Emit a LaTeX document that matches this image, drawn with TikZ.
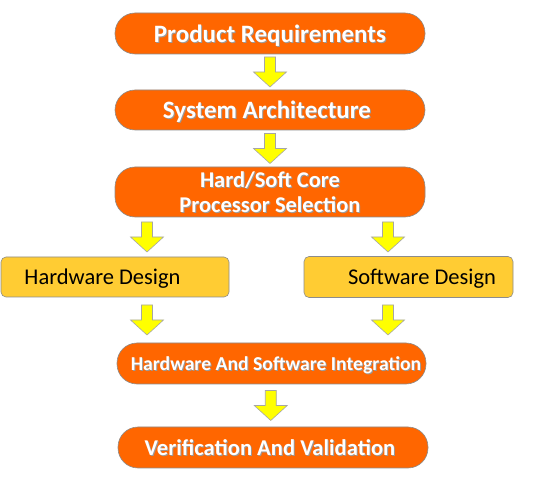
\documentclass[tikz,border=0pt]{standalone}
\usepackage{fontspec}
\setmainfont{Carlito}
\usetikzlibrary{calc}
\definecolor{orng}{HTML}{FF6600}
\definecolor{ylw}{HTML}{FFFF00}
\definecolor{gold}{HTML}{FFCC33}
\newcommand\stxt[1]{\makebox[0pt][l]{\kern1pt\raisebox{-1pt}{\color{black!40}#1}}#1}
\tikzset{
  pill/.style={draw=black!45, line width=0.6pt, fill=orng, rounded corners=20pt,
    text=white, font=\bfseries, align=center, inner sep=0pt, text depth=0pt},
  goldbox/.style={draw=black!45, line width=0.6pt, fill=gold, rounded corners=5pt,
    text=black, inner sep=0pt, text depth=0pt, font=\fontsize{22.5}{26}\selectfont},
  barrow/.pic={\draw[fill=ylw, draw=black!35, line width=0.6pt]
    (-5.5,-15) -- (5.5,-15) -- (5.5,0) -- (16.5,0) -- (0,15) -- (-16.5,0) -- (-5.5,0) -- cycle;}
}
\begin{document}
\begin{tikzpicture}[x=1pt,y=-1pt]
\useasboundingbox (0,0) rectangle (550,500);
\node[pill, minimum width=310pt, minimum height=41pt, font=\bfseries\fontsize{25}{28}\selectfont] (p1) at (270,33.5) {\stxt{Product Requirements}};
\node[pill, minimum width=310pt, minimum height=40pt, font=\bfseries\fontsize{25}{28}\selectfont] (p2) at (270,110) {\hspace*{-6pt}\stxt{System Architecture}};
\node[pill, minimum width=310pt, minimum height=50pt, font=\bfseries\fontsize{22.5}{25}\selectfont] (p3) at (270,192) {\stxt{Hard/Soft Core}\\\stxt{Processor Selection}};
\node[goldbox, minimum width=228pt, minimum height=40pt] (hw) at (115,277) {\hspace*{-25pt}Hardware Design};
\node[goldbox, minimum width=209pt, minimum height=41pt] (sw) at (408.5,277) {\hspace*{27pt}Software Design};
\node[pill, minimum width=309pt, minimum height=41pt, font=\bfseries\fontsize{19.7}{22}\selectfont] (p4) at (271.5,363.5) {\hspace*{9pt}\stxt{Hardware And Software Integration}};
\node[pill, minimum width=310pt, minimum height=41pt, font=\bfseries\fontsize{22.6}{26}\selectfont] (p5) at (273,447.5) {\hspace*{-6pt}\stxt{Verification And Validation}};
\coordinate (xl) at (147,0);
\coordinate (xr) at (388,0);
\coordinate (m1) at ($(p1.south)!0.5!(p2.north)$);
\coordinate (m2) at ($(p2.south)!0.5!(p3.north)$);
\coordinate (m3) at ($(p3.south)!0.5!(hw.north)$);
\coordinate (m4) at ($(hw.south)!0.5!(p4.north)$);
\coordinate (m5) at ($(p4.south)!0.5!(p5.north)$);
\pic at (m1) {barrow};
\pic at (m2) {barrow};
\pic at (xl |- m3) {barrow};
\pic at (xr |- m3) {barrow};
\pic at (xl |- m4) {barrow};
\pic at (xr |- m4) {barrow};
\pic at ([xshift=-1.5pt]m5) {barrow};
\end{tikzpicture}
\end{document}
